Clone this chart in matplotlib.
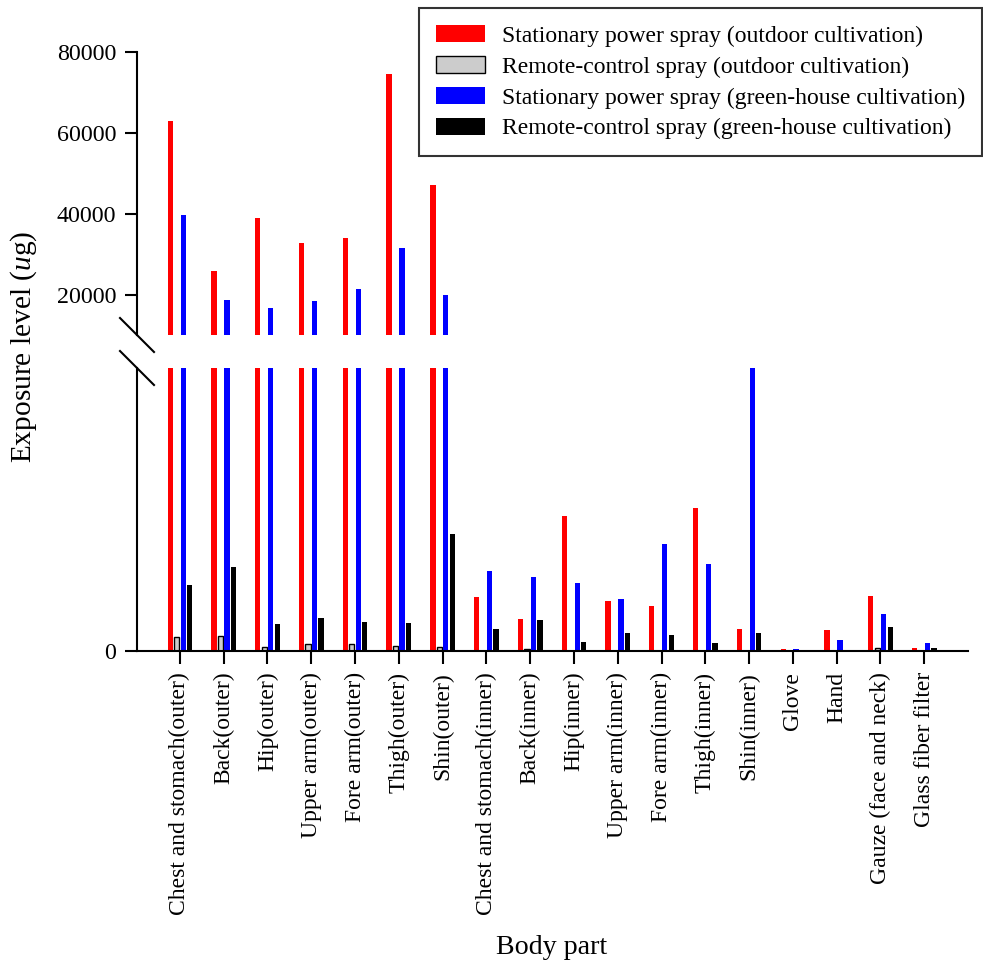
import numpy as np
import matplotlib
matplotlib.use('Agg')
import matplotlib.pyplot as plt
from matplotlib.lines import Line2D

plt.rcParams['font.family'] = 'Liberation Serif'
plt.rcParams['mathtext.fontset'] = 'custom'
plt.rcParams['mathtext.rm'] = 'Liberation Serif'
plt.rcParams['mathtext.it'] = 'Liberation Serif:italic'

# body parts
parts = ['Chest and stomach(outer)', 'Back(outer)', 'Hip(outer)', 'Upper arm(outer)',
         'Fore arm(outer)', 'Thigh(outer)', 'Shin(outer)', 'Chest and stomach(inner)',
         'Back(inner)', 'Hip(inner)', 'Upper arm(inner)', 'Fore arm(inner)',
         'Thigh(inner)', 'Shin(inner)', 'Glove', 'Hand', 'Gauze (face and neck)',
         'Glass fiber filter']

# exposure levels (ug)
stat_outdoor = [62985, 25930, 39050, 32770, 34100, 74550, 46980, 958,
                570, 2383, 877, 794, 2524, 383, 29, 376, 971, 53]
remote_outdoor = [253, 270, 76, 129, 118, 88, 71, 0,
                  41, 0, 0, 0, 0, 0, 0, 0, 47, 0]
stat_green = [39630, 18740, 16760, 18410, 21470, 31450, 19810, 1412,
              1300, 1195, 918, 1889, 1536, 5000, 29, 194, 658, 147]
remote_green = [1160, 1488, 471, 588, 512, 489, 2070, 388,
                547, 164, 323, 277, 136, 312, 0, 0, 429, 53]

series = [
    (stat_outdoor, 'Stationary power spray (outdoor cultivation)', '#ff0000', 'none'),
    (remote_outdoor, 'Remote-control spray (outdoor cultivation)', '#cccccc', 'black'),
    (stat_green, 'Stationary power spray (green-house cultivation)', '#0000ff', 'none'),
    (remote_green, 'Remote-control spray (green-house cultivation)', '#000000', 'none'),
]

W, H = 983, 968
fig = plt.figure(figsize=(W / 100, H / 100), dpi=100)
left, right = 137 / W, 968 / W
ax_top = fig.add_axes([left, (H - 335) / H, right - left, (335 - 52) / H])
ax_bot = fig.add_axes([left, (H - 651) / H, right - left, (651 - 368) / H])

x = np.arange(len(parts))
width = 0.12
step = 0.148
offsets = [-1.5, -0.5, 0.5, 1.5]

handles = []
for (vals, name, color, edge), off in zip(series, offsets):
    for ax in (ax_top, ax_bot):
        b = ax.bar(x + off * step, vals, width, color=color,
                   edgecolor=edge, linewidth=1.0 if edge != 'none' else 0)
    handles.append(b)

ax_top.set_ylim(10000, 80000)
ax_top.set_yticks([20000, 40000, 60000, 80000])
ax_bot.set_ylim(0, 5000)
ax_bot.set_yticks([0])

for ax in (ax_top, ax_bot):
    ax.set_xlim(-0.98, 18.0)
    ax.spines['top'].set_visible(False)
    ax.spines['right'].set_visible(False)
    ax.spines['left'].set_linewidth(1.5)
    ax.tick_params(axis='y', length=9, width=1.5, labelsize=17.3, pad=6, direction='out')

ax_top.spines['bottom'].set_visible(False)
ax_top.tick_params(axis='x', bottom=False, labelbottom=False)
ax_bot.spines['bottom'].set_linewidth(1.5)
ax_bot.set_xticks(x)
ax_bot.set_xticklabels(parts, rotation=90, fontsize=17)
ax_bot.tick_params(axis='x', length=9, width=1.5, pad=6)

# break marks
for yc in (335, 368):
    fig.add_artist(Line2D([120 / W, 154 / W], [(H - yc + 17) / H, (H - yc - 17) / H],
                          color='black', lw=1.5))

fig.text(24 / W, (H - 347) / H, 'Exposure level ($\\mathit{u}$g)', rotation=90,
         ha='center', va='center', fontsize=21.2)
fig.text(552 / W, (H - 947) / H, 'Body part', ha='center', va='center', fontsize=20.2)

labels = [s[1] for s in series]
leg = fig.legend(handles, labels, loc='upper right', bbox_to_anchor=(982 / W, 1 - 8 / H),
                 fontsize=17, frameon=True, fancybox=False, edgecolor='black',
                 handlelength=2.1, handleheight=0.75, borderpad=0.72, labelspacing=0.38,
                 handletextpad=0.7, borderaxespad=0)
leg.get_frame().set_linewidth(1.5)

fig.savefig('out.png', dpi=100)
